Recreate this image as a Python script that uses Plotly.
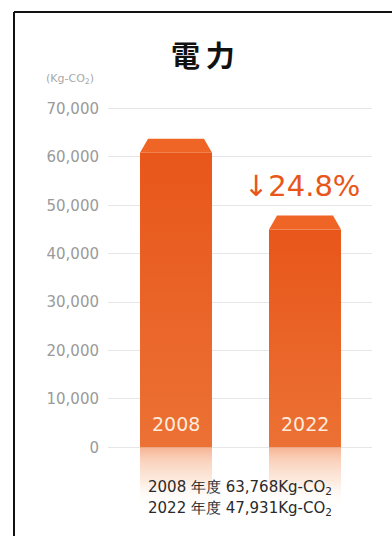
import plotly.graph_objects as go

# ---- data ----
years = ["2008", "2022"]
values = [63768, 47931]
y_tick_vals = [0, 10000, 20000, 30000, 40000, 50000, 60000, 70000]
y_tick_text = ["0", "10,000", "20,000", "30,000", "40,000", "50,000", "60,000", "70,000"]
title_text = "電力"
unit_text = "(Kg-CO<sub>2</sub>)"
reduction_text = "↓24.8%"
summary_lines = ["2008 年度 63,768Kg-CO<sub>2</sub>", "2022 年度 47,931Kg-CO<sub>2</sub>"]

# ---- geometry / style ----
W, H = 392, 536
x_pos = [0, 1]
HW = 0.279          # bar half width (x units)
BEVEL_H = 2900      # bevel height (y units)
BEVEL_IN = 0.062    # bevel inset (x units)
REFL = 12500        # reflection depth (y units)
ORANGE_TOP = "#E8561A"
ORANGE_BOT = "#EC7134"
BEVEL_COL = "#EF6526"

fig = go.Figure()

for xc, v in zip(x_pos, values):
    # reflection below zero
    fig.add_trace(go.Scatter(
        x=[xc - HW, xc + HW, xc + HW, xc - HW, xc - HW],
        y=[0, 0, -REFL, -REFL, 0],
        mode="lines", line=dict(width=0), fill="toself",
        fillgradient=dict(type="vertical",
                          colorscale=[[0, "rgba(255,255,255,0)"], [0.45, "rgba(247,185,145,0.3)"],
                                      [0.8, "rgba(243,150,100,0.45)"], [1, "rgba(238,130,75,0.6)"]]),
        hoverinfo="skip", showlegend=False))
    # bar body
    fig.add_trace(go.Scatter(
        x=[xc - HW, xc + HW, xc + HW, xc - HW, xc - HW],
        y=[0, 0, v - BEVEL_H, v - BEVEL_H, 0],
        mode="lines", line=dict(width=0), fill="toself",
        fillgradient=dict(type="vertical",
                          colorscale=[[0, ORANGE_BOT], [1, ORANGE_TOP]]),
        hoverinfo="skip", showlegend=False))
    # bevel top
    fig.add_trace(go.Scatter(
        x=[xc - HW, xc + HW, xc + HW - BEVEL_IN, xc - HW + BEVEL_IN, xc - HW],
        y=[v - BEVEL_H, v - BEVEL_H, v, v, v - BEVEL_H],
        mode="lines", line=dict(width=0), fill="toself", fillcolor=BEVEL_COL,
        hoverinfo="skip", showlegend=False))

# year labels inside the bars
for xc, yr in zip(x_pos, years):
    fig.add_annotation(x=xc, y=4900, xref="x", yref="y", text=yr, showarrow=False,
                       font=dict(family="DejaVu Sans", size=19, color="#FDEBDD"),
                       xanchor="center", yanchor="middle")

# reduction label
fig.add_annotation(x=0.98, y=54000, xref="x", yref="y", text=reduction_text, showarrow=False,
                   font=dict(family="DejaVu Sans", size=29, color="#E8561A"),
                   xanchor="center", yanchor="middle")

# title (letter-spaced, bold)
fig.add_annotation(x=203 / W, y=1 - 52 / H, xref="paper", yref="paper",
                   text="<b>" + "\u2009".join(title_text) + "</b>",
                   showarrow=False, font=dict(family="Noto Sans CJK JP", size=29, color="#111111"),
                   xanchor="center", yanchor="middle")
# unit
fig.add_annotation(x=44 / W, y=1 - 77 / H, xref="paper", yref="paper", text=unit_text,
                   showarrow=False, font=dict(family="DejaVu Sans", size=11, color="#A8A8A8"),
                   xanchor="left", yanchor="middle")
# summary lines
for i, line in enumerate(summary_lines):
    fig.add_annotation(x=240 / W, y=1 - (487 + 21 * i) / H, xref="paper", yref="paper", text=line,
                       showarrow=False, font=dict(family="DejaVu Sans", size=15, color="#2A2A2A"),
                       xanchor="center", yanchor="middle")

# frame lines
fig.add_shape(type="line", xref="paper", yref="paper", x0=14 / W, x1=14 / W, y0=1 - 10 / H, y1=0,
              line=dict(color="#111111", width=2))
fig.add_shape(type="line", xref="paper", yref="paper", x0=14 / W, x1=1, y0=1 - 10 / H, y1=1 - 10 / H,
              line=dict(color="#111111", width=2))

# axes: pixel 108..372 horizontally; 70000 at y=107, 0 at y=447
px_per_x = 129.0
x_lo = 0 - (176 - 108) / px_per_x
x_hi = 1 + (372 - 305) / px_per_x
px_per_y = 340 / 70000
y_top_px, y_bot_px = 100, 530
y_hi = 70000 + (107 - y_top_px) / px_per_y
y_lo = 0 - (y_bot_px - 447) / px_per_y

fig.update_layout(
    width=W, height=H,
    margin=dict(l=0, r=0, t=0, b=0),
    paper_bgcolor="white", plot_bgcolor="white",
    xaxis=dict(domain=[108 / W, 372 / W], range=[x_lo, x_hi], showgrid=False, zeroline=False,
               showticklabels=False, showline=False, fixedrange=True),
    yaxis=dict(domain=[1 - y_bot_px / H, 1 - y_top_px / H], range=[y_lo, y_hi],
               tickvals=y_tick_vals, ticktext=y_tick_text, showgrid=True, gridcolor="#E6E6E6",
               gridwidth=1, zeroline=False, showline=False, ticks="", ticklabelstandoff=8,
               tickfont=dict(family="DejaVu Sans", size=15, color="#9A9A9A"), fixedrange=True),
    showlegend=False,
)

fig.write_html("out.html")
